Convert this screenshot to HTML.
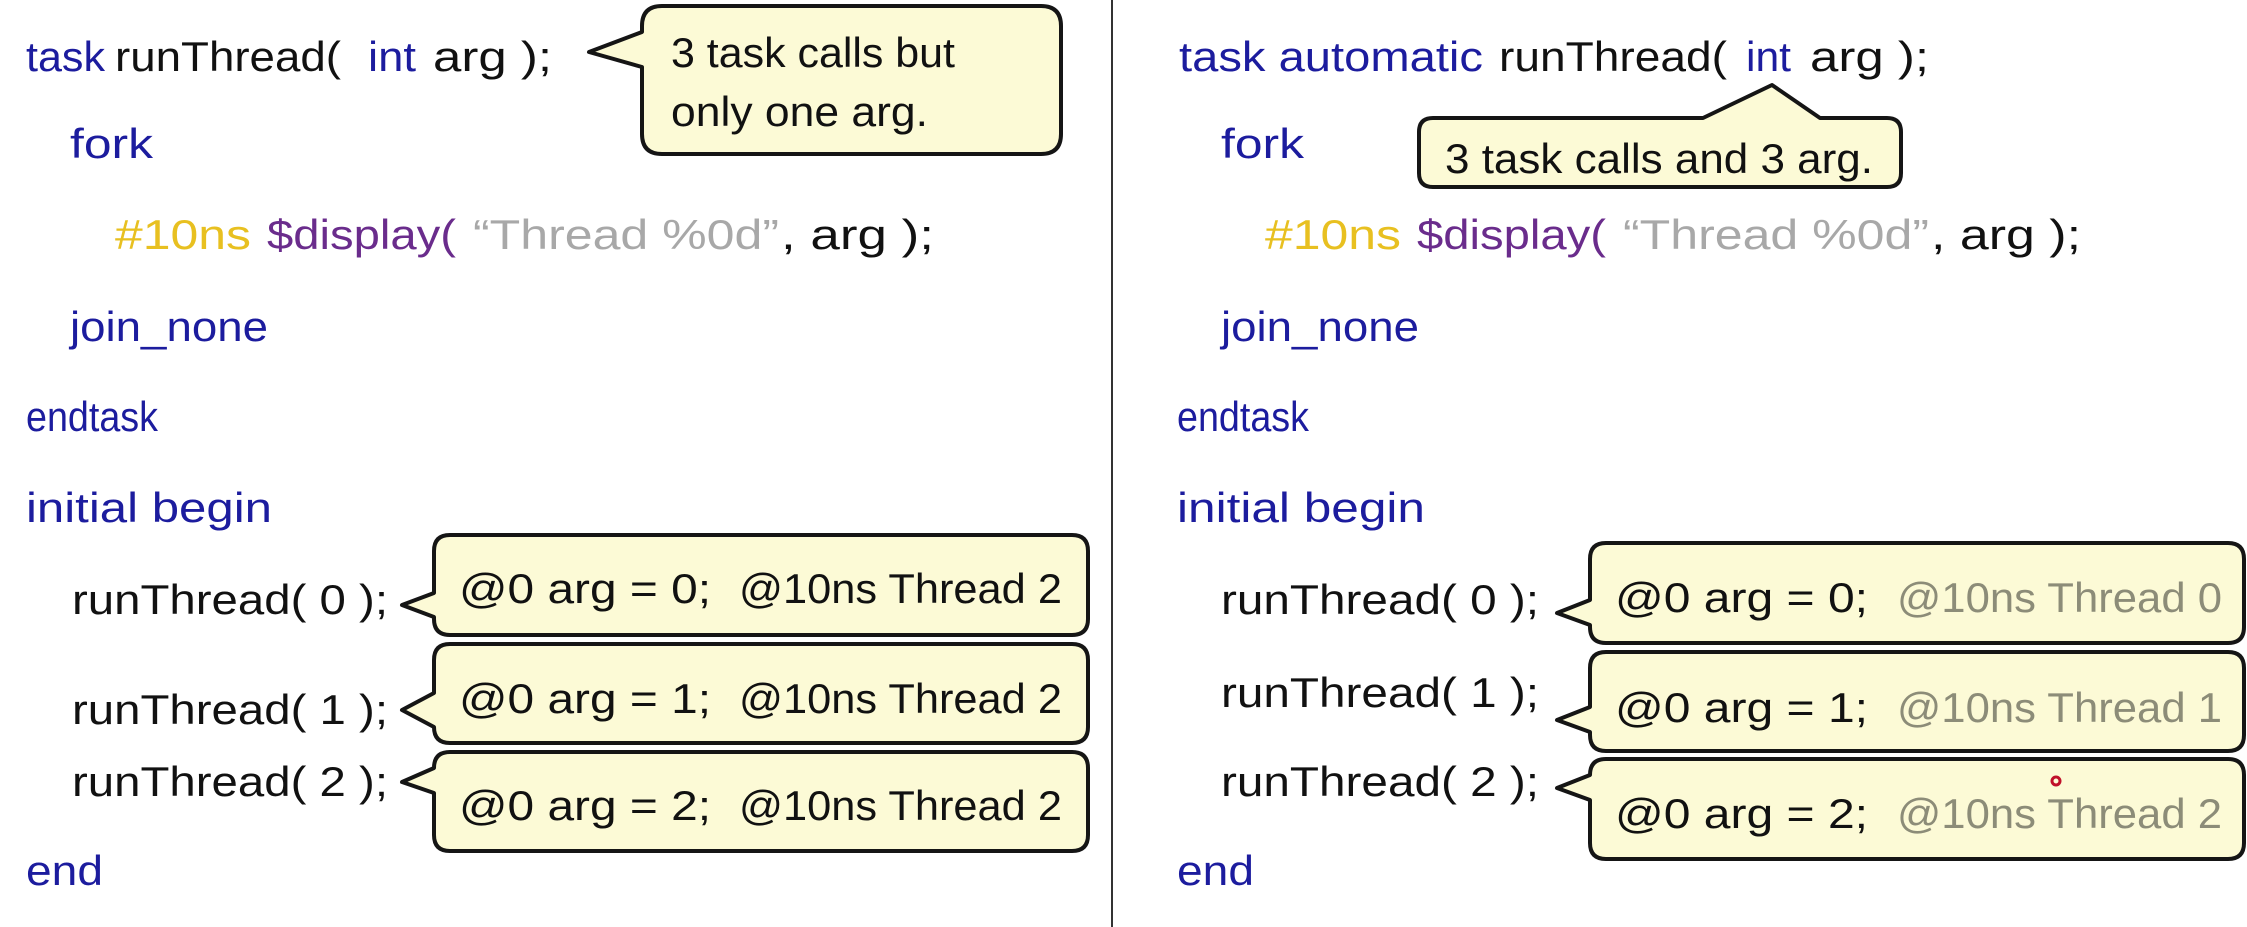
<!DOCTYPE html>
<html><head><meta charset="utf-8"><style>
html,body{margin:0;padding:0;background:#fff;}
svg{display:block;}
text{font-family:"Liberation Sans",sans-serif;font-size:42px;}
.b{fill:#1c1c9e}.k{fill:#111}.y{fill:#e8c020}.p{fill:#6a2c8c}.g{fill:#a8a8a8}.gg{fill:#8c8c78}
.box{fill:#fcfad6;stroke:#151515;stroke-width:4;stroke-linejoin:round}
</style></head><body>
<svg width="2247" height="927" viewBox="0 0 2247 927" xmlns="http://www.w3.org/2000/svg">
<line x1="1112" y1="0" x2="1112" y2="927" stroke="#333" stroke-width="2"/>
<!-- LEFT -->
<text x="26" y="71" class="b" textLength="79" lengthAdjust="spacingAndGlyphs">task</text>
<text x="115" y="71" class="k" textLength="226" lengthAdjust="spacingAndGlyphs">runThread(</text>
<text x="368" y="71" class="b" textLength="48" lengthAdjust="spacingAndGlyphs">int</text>
<text x="433" y="71" class="k" textLength="119" lengthAdjust="spacingAndGlyphs">arg );</text>
<text x="70" y="158" class="b" textLength="83" lengthAdjust="spacingAndGlyphs">fork</text>
<text x="115" y="249" class="y" textLength="136" lengthAdjust="spacingAndGlyphs">#10ns</text>
<text x="267" y="249" class="p" textLength="189" lengthAdjust="spacingAndGlyphs">$display(</text>
<text x="473" y="249" class="g" textLength="306" lengthAdjust="spacingAndGlyphs">“Thread %0d”</text>
<text x="781" y="249" class="k" textLength="153" lengthAdjust="spacingAndGlyphs">, arg );</text>
<text x="70" y="341" class="b" textLength="198" lengthAdjust="spacingAndGlyphs">join_none</text>
<text x="26" y="431" class="b" textLength="132" lengthAdjust="spacingAndGlyphs">endtask</text>
<text x="26" y="522" class="b" textLength="246" lengthAdjust="spacingAndGlyphs">initial begin</text>
<text x="72" y="614" class="k" textLength="316" lengthAdjust="spacingAndGlyphs">runThread( 0 );</text>
<text x="72" y="724" class="k" textLength="316" lengthAdjust="spacingAndGlyphs">runThread( 1 );</text>
<text x="72" y="796" class="k" textLength="316" lengthAdjust="spacingAndGlyphs">runThread( 2 );</text>
<text x="26" y="885" class="b" textLength="77" lengthAdjust="spacingAndGlyphs">end</text>

<path class="box" d="M662 6 H1041 Q1061 6 1061 26 V134 Q1061 154 1041 154 H662 Q642 154 642 134 V67 L589 52 L642 32 V26 Q642 6 662 6 Z"/>
<text x="671" y="67" class="k" textLength="284" lengthAdjust="spacingAndGlyphs">3 task calls but</text>
<text x="671" y="126" class="k" textLength="257" lengthAdjust="spacingAndGlyphs">only one arg.</text>

<path class="box" d="M450 535 H1072 Q1088 535 1088 551 V619 Q1088 635 1072 635 H450 Q434 635 434 619 V617 L402 605 L434 593 V551 Q434 535 450 535 Z"/>
<path class="box" d="M450 644 H1072 Q1088 644 1088 660 V727 Q1088 743 1072 743 H450 Q434 743 434 727 L402 710 L434 693 V660 Q434 644 450 644 Z"/>
<path class="box" d="M450 752 H1072 Q1088 752 1088 768 V835 Q1088 851 1072 851 H450 Q434 851 434 835 V793 L402 782 L434 768 Q434 752 450 752 Z"/>
<text x="459" y="603" class="k" textLength="252" lengthAdjust="spacingAndGlyphs">@0 arg = 0;</text>
<text x="739" y="603" class="k" textLength="323" lengthAdjust="spacingAndGlyphs">@10ns Thread 2</text>
<text x="459" y="713" class="k" textLength="252" lengthAdjust="spacingAndGlyphs">@0 arg = 1;</text>
<text x="739" y="713" class="k" textLength="323" lengthAdjust="spacingAndGlyphs">@10ns Thread 2</text>
<text x="459" y="820" class="k" textLength="252" lengthAdjust="spacingAndGlyphs">@0 arg = 2;</text>
<text x="739" y="820" class="k" textLength="323" lengthAdjust="spacingAndGlyphs">@10ns Thread 2</text>

<!-- RIGHT -->
<text x="1179" y="71" class="b" textLength="304" lengthAdjust="spacingAndGlyphs">task automatic</text>
<text x="1499" y="71" class="k" textLength="228" lengthAdjust="spacingAndGlyphs">runThread(</text>
<text x="1746" y="71" class="b" textLength="45" lengthAdjust="spacingAndGlyphs">int</text>
<text x="1810" y="71" class="k" textLength="119" lengthAdjust="spacingAndGlyphs">arg );</text>
<text x="1221" y="158" class="b" textLength="83" lengthAdjust="spacingAndGlyphs">fork</text>
<path class="box" d="M1433 118 H1703 L1772 85 L1820 118 H1887 Q1901 118 1901 132 V173 Q1901 187 1887 187 H1433 Q1419 187 1419 173 V132 Q1419 118 1433 118 Z"/>
<text x="1445" y="173" class="k" textLength="428" lengthAdjust="spacingAndGlyphs">3 task calls and 3 arg.</text>
<text x="1265" y="249" class="y" textLength="136" lengthAdjust="spacingAndGlyphs">#10ns</text>
<text x="1417" y="249" class="p" textLength="189" lengthAdjust="spacingAndGlyphs">$display(</text>
<text x="1623" y="249" class="g" textLength="306" lengthAdjust="spacingAndGlyphs">“Thread %0d”</text>
<text x="1931" y="249" class="k" textLength="150" lengthAdjust="spacingAndGlyphs">, arg );</text>
<text x="1221" y="341" class="b" textLength="198" lengthAdjust="spacingAndGlyphs">join_none</text>
<text x="1177" y="431" class="b" textLength="132" lengthAdjust="spacingAndGlyphs">endtask</text>
<text x="1177" y="522" class="b" textLength="248" lengthAdjust="spacingAndGlyphs">initial begin</text>
<text x="1221" y="614" class="k" textLength="318" lengthAdjust="spacingAndGlyphs">runThread( 0 );</text>
<text x="1221" y="707" class="k" textLength="318" lengthAdjust="spacingAndGlyphs">runThread( 1 );</text>
<text x="1221" y="796" class="k" textLength="318" lengthAdjust="spacingAndGlyphs">runThread( 2 );</text>
<text x="1177" y="885" class="b" textLength="77" lengthAdjust="spacingAndGlyphs">end</text>

<path class="box" d="M1606 543 H2228 Q2244 543 2244 559 V627 Q2244 643 2228 643 H1606 Q1590 643 1590 627 V625 L1557 613 L1590 600 V559 Q1590 543 1606 543 Z"/>
<path class="box" d="M1606 652 H2228 Q2244 652 2244 668 V735 Q2244 751 2228 751 H1606 Q1590 751 1590 735 V732 L1557 720 L1590 707 V668 Q1590 652 1606 652 Z"/>
<path class="box" d="M1606 759 H2228 Q2244 759 2244 775 V843 Q2244 859 2228 859 H1606 Q1590 859 1590 843 V800 L1557 788 L1590 775 Q1590 759 1606 759 Z"/>
<text x="1615" y="612" class="k" textLength="253" lengthAdjust="spacingAndGlyphs">@0 arg = 0;</text>
<text x="1897" y="612" class="gg" textLength="325" lengthAdjust="spacingAndGlyphs">@10ns Thread 0</text>
<text x="1615" y="722" class="k" textLength="253" lengthAdjust="spacingAndGlyphs">@0 arg = 1;</text>
<text x="1897" y="722" class="gg" textLength="325" lengthAdjust="spacingAndGlyphs">@10ns Thread 1</text>
<text x="1615" y="828" class="k" textLength="253" lengthAdjust="spacingAndGlyphs">@0 arg = 2;</text>
<text x="1897" y="828" class="gg" textLength="325" lengthAdjust="spacingAndGlyphs">@10ns Thread 2</text>
<circle cx="2056" cy="781" r="4" fill="none" stroke="#c0102a" stroke-width="3"/>
</svg>
</body></html>
